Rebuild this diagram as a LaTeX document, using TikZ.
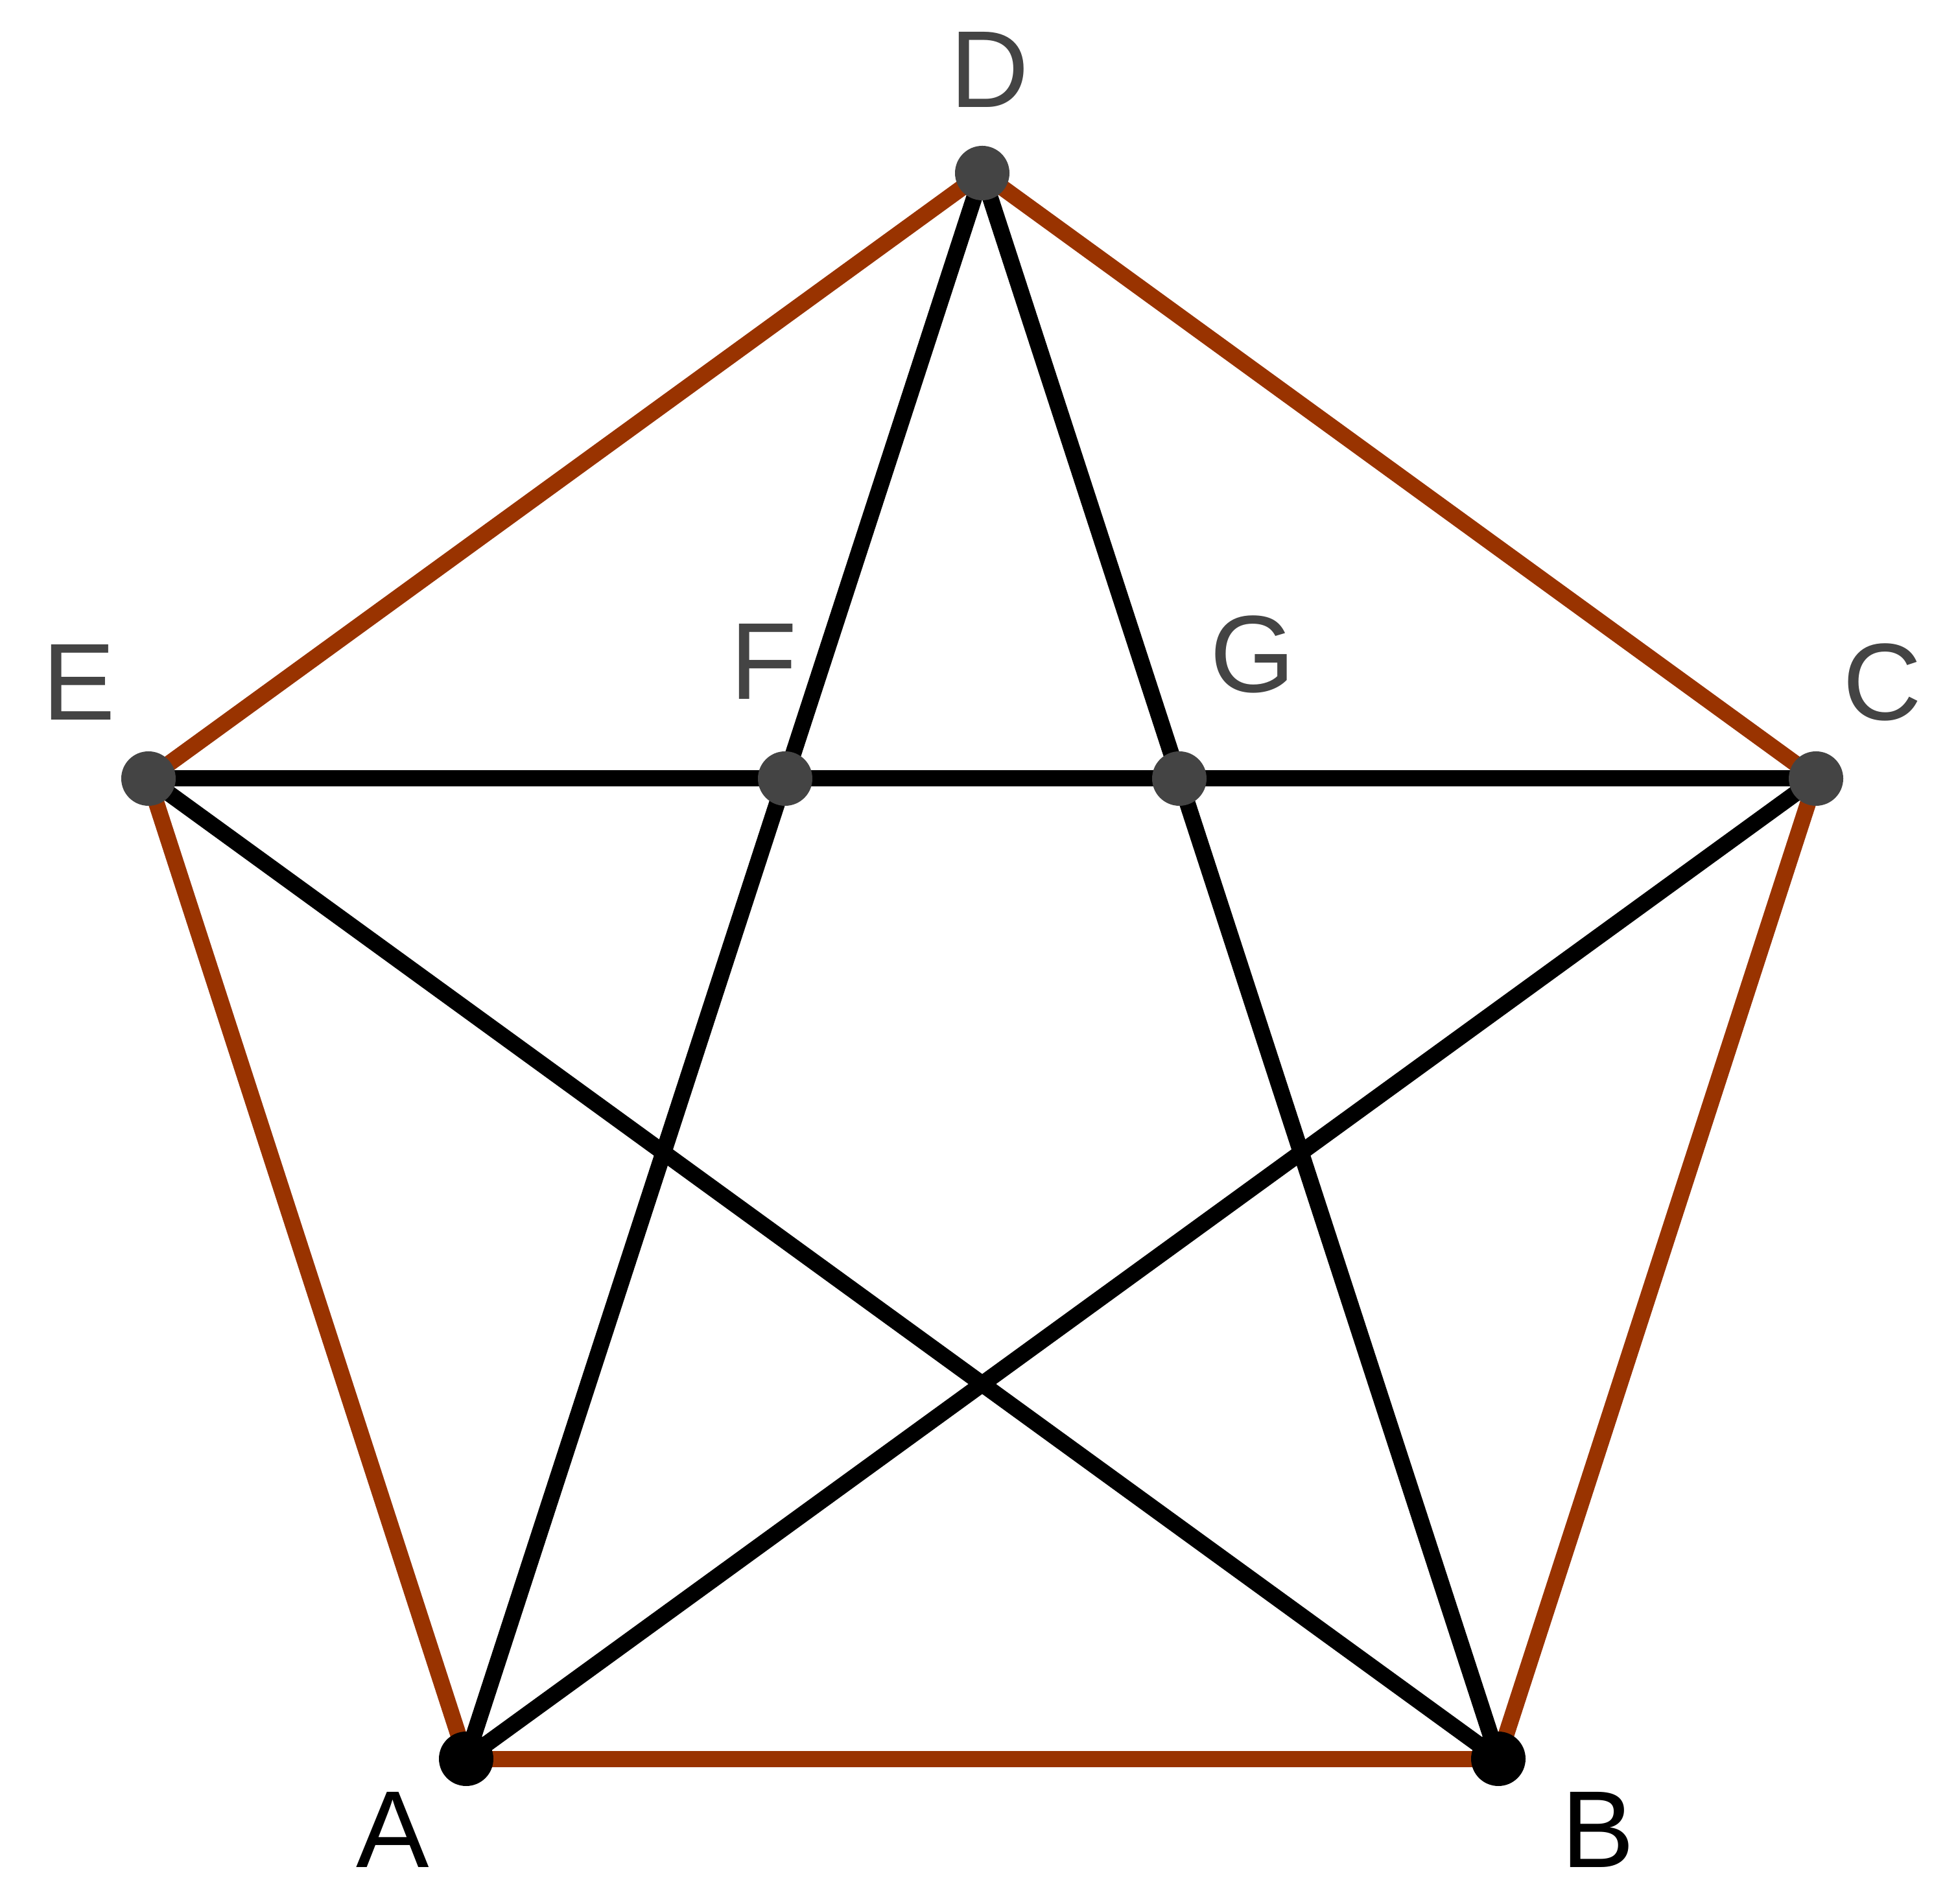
\documentclass[tikz,border=0pt]{standalone}
\usepackage{fontspec}
\setmainfont{Liberation Sans}
\usepackage{tikz}

\definecolor{edgebrown}{HTML}{993300}
\definecolor{dotgray}{HTML}{444444}

\tikzset{
  vertex/.style={circle, fill=dotgray, inner sep=0pt, minimum size=0.84cm},
  vertexdark/.style={vertex, fill=black},
  vlabel/.style={text=dotgray, font=\fontsize{48}{58}\selectfont, inner sep=0pt},
  vlabeldark/.style={vlabel, text=black},
  outer/.style={draw=edgebrown, line width=0.25cm},
  inner/.style={draw=black, line width=0.25cm}
}

\begin{document}
\begin{tikzpicture}
            \useasboundingbox (0,0) rectangle (30,29.36);

            \coordinate (A) at (7.19,2.23);
            \coordinate (B) at (23.11,2.23);
            \coordinate (C) at (28.01,17.35);
            \coordinate (D) at (15.15,26.69);
            \coordinate (E) at (2.29,17.35);
            \coordinate (F) at (12.11,17.35);
            \coordinate (G) at (18.19,17.35);

            \draw[outer] (A) -- (B);
            \draw[outer] (B) -- (C);
            \draw[outer] (C) -- (D);
            \draw[outer] (D) -- (E);
            \draw[outer] (E) -- (A);

            \draw[inner] (E) -- (F);
            \draw[inner] (F) -- (G);
            \draw[inner] (G) -- (C);
            \draw[inner] (D) -- (F);
            \draw[inner] (F) -- (A);
            \draw[inner] (D) -- (G);
            \draw[inner] (G) -- (B);
            \draw[inner] (E) -- (B);
            \draw[inner] (A) -- (C);

            \node[vertexdark] (vA) at (A) {};
            \node[vertexdark] (vB) at (B) {};
            \node[vertex] (vC) at (C) {};
            \node[vertex] (vD) at (D) {};
            \node[vertex] (vE) at (E) {};
            \node[vertex] (vF) at (F) {};
            \node[vertex] (vG) at (G) {};

            \node[vlabeldark] (lA) at (6.06,1.14) {A};
            \node[vlabeldark] (lB) at (24.65,1.14) {B};
            \node[vlabel] (lC) at (29.03,18.84) {C};
            \node[vlabel] (lD) at (15.26,28.28) {D};
            \node[vlabel] (lE) at (1.22,18.84) {E};
            \node[vlabel] (lF) at (11.78,19.16) {F};
            \node[vlabel] (lG) at (19.32,19.27) {G};
        \end{tikzpicture}
\end{document}
